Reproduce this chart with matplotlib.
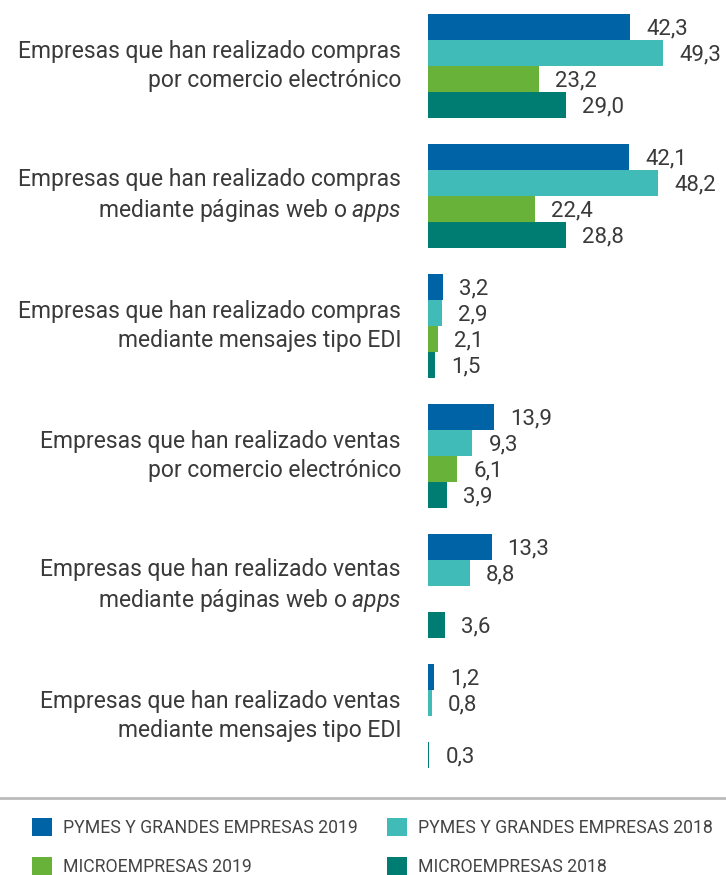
import matplotlib
matplotlib.use("Agg")
import matplotlib.pyplot as plt
from matplotlib.lines import Line2D

plt.rcParams['font.family'] = ['Roboto', 'DejaVu Sans']
plt.rcParams['mathtext.fontset'] = 'custom'
plt.rcParams['mathtext.rm'] = 'Roboto'
plt.rcParams['mathtext.it'] = 'Roboto:italic'

categories = [
    "Empresas que han realizado compras\npor comercio electrónico",
    "Empresas que han realizado compras\nmediante páginas web o $\\mathit{apps}$",
    "Empresas que han realizado compras\nmediante mensajes tipo EDI",
    "Empresas que han realizado ventas\npor comercio electrónico",
    "Empresas que han realizado ventas\nmediante páginas web o $\\mathit{apps}$",
    "Empresas que han realizado ventas\nmediante mensajes tipo EDI",
]
series_names = [
    "PYMES Y GRANDES EMPRESAS 2019",
    "PYMES Y GRANDES EMPRESAS 2018",
    "MICROEMPRESAS 2019",
    "MICROEMPRESAS 2018",
]
pymes_2019 = [42.3, 42.1, 3.2, 13.9, 13.3, 1.2]
pymes_2018 = [49.3, 48.2, 2.9, 9.3, 8.8, 0.8]
micro_2019 = [23.2, 22.4, 2.1, 6.1, None, None]
micro_2018 = [29.0, 28.8, 1.5, 3.9, 3.6, 0.3]
series = [pymes_2019, pymes_2018, micro_2019, micro_2018]
colors = ["#0063A6", "#40BBB7", "#69B23A", "#007D73"]

W, H = 726, 875
fig = plt.figure(figsize=(W / 100, H / 100), dpi=100)
ax = fig.add_axes([428 / W, 1 - 768 / H, 286.5 / W, (768 - 14) / H])

text_color = "#3a3a3a"
handles = []
for j, (vals, col) in enumerate(zip(series, colors)):
    ys = [5 * i + j for i, v in enumerate(vals) if v is not None]
    xs = [v for v in vals if v is not None]
    bars = ax.barh(ys, xs, height=1.0, color=col, label=series_names[j])
    handles.append(bars)
    for y, v in zip(ys, xs):
        ax.annotate(f"{v:.1f}".replace(".", ","), xy=(v, y), xytext=(16, -2),
                    textcoords="offset pixels", va="center", ha="left",
                    fontsize=16, color=text_color, annotation_clip=False)

ax.set_xlim(0, 60)
ax.set_ylim(28.5, -0.5)
ax.axis("off")

for i, cat in enumerate(categories):
    ax.annotate(cat, xy=(0, 5 * i + 1.5), xytext=(-27, 0), textcoords="offset pixels",
                ha="right", va="center", fontsize=16.5, color=text_color,
                linespacing=1.3, multialignment="right", annotation_clip=False)

fig.add_artist(Line2D([0, 1], [1 - 798 / H, 1 - 798 / H], transform=fig.transFigure,
                      color="#bbbbbb", linewidth=2))

order = [0, 2, 1, 3]
leg = fig.legend([handles[k] for k in order], [series_names[k] for k in order],
                 ncol=2, loc="upper left", bbox_to_anchor=(32 / W, 1 - 818 / H),
                 frameon=False, fontsize=12.7, handlelength=1.14, handleheight=1.19,
                 handletextpad=0.63, columnspacing=1.65, labelspacing=1.15,
                 borderpad=0, borderaxespad=0,
                 labelcolor="#444444")

fig.savefig("out.png", dpi=100, facecolor="white")
